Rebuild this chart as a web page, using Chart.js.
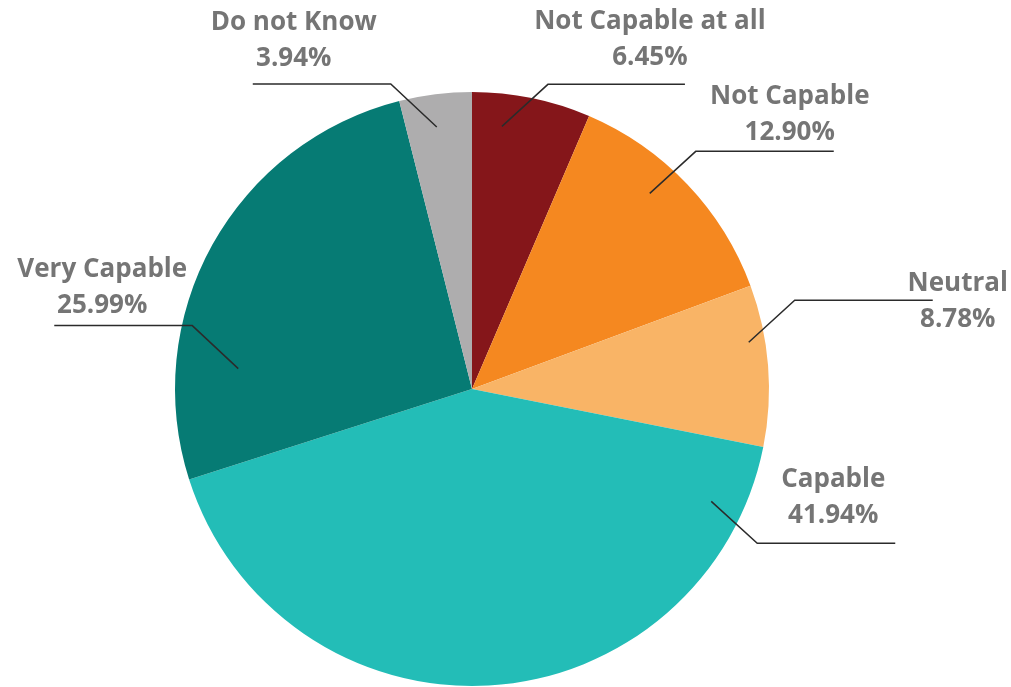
<script src="https://cdn.jsdelivr.net/npm/chart.js"></script>

<style>
  html, body { margin: 0; padding: 0; background: #fff; }
  #wrap { width: 1011px; height: 687px; }
</style>

<div id="wrap">
  <canvas id="myChart"></canvas>
</div>

<script>
  const categories = [
    'Not Capable at all',
    'Not Capable',
    'Neutral',
    'Capable',
    'Very Capable',
    'Do not Know',
  ];
  const shares = [6.45, 12.9, 8.78, 41.94, 25.99, 3.94];
  const colors = ['#85161A', '#F58820', '#F9B466', '#23BDB7', '#067B74', '#AEADAE'];

  // where each leader line touches its slice, and where its text sits
  // t: fraction along the slice angle, r: fraction of radius
  // ex/ey: elbow offset from the anchor, len: horizontal run, tx/ty: text centre from elbow
  const labelLayout = [
    { t: 0.28, r: 0.89, ex: 46, ey: -42, len: 137, tx: 102, ty: -63 },
    { t: 0.41, r: 0.89, ex: 46, ey: -42, len: 138, tx: 94, ty: -55 },
    { t: 0.34, r: 0.945, ex: 46, ey: -42, len: 138, tx: 163, ty: -17 },
    { t: 0.092, r: 0.89, ex: 46, ey: 42, len: 138, tx: 76, ty: -64 },
    { t: 0.243, r: 0.79, ex: -46, ey: -43, len: -138, tx: -90, ty: -56 },
    { t: 0.46, r: 0.89, ex: -46, ey: -43, len: -138, tx: -97, ty: -61 },
  ];

  const leaderLabels = {
    id: 'leaderLabels',
    afterDraw(chart) {
      const ctx = chart.ctx;
      const meta = chart.getDatasetMeta(0);
      ctx.save();
      meta.data.forEach(function (arc, i) {
        const p = arc.getProps(['x', 'y', 'startAngle', 'endAngle', 'outerRadius'], true);
        const L = labelLayout[i];
        const a = p.startAngle + L.t * (p.endAngle - p.startAngle);
        const ax = p.x + Math.cos(a) * p.outerRadius * L.r;
        const ay = p.y + Math.sin(a) * p.outerRadius * L.r;
        const bx = ax + L.ex;
        const by = ay + L.ey;

        ctx.strokeStyle = '#2b2b2b';
        ctx.lineWidth = 1.5;
        ctx.beginPath();
        ctx.moveTo(ax, ay);
        ctx.lineTo(bx, by);
        ctx.lineTo(bx + L.len, by);
        ctx.stroke();

        ctx.fillStyle = '#757575';
        ctx.font = 'bold 26px "Open Sans", "Noto Sans", sans-serif';
        ctx.textAlign = 'center';
        ctx.textBaseline = 'middle';
        ctx.fillText(categories[i], bx + L.tx, by + L.ty);
        ctx.fillText(shares[i].toFixed(2) + '%', bx + L.tx, by + L.ty + 36);
      });
      ctx.restore();
    },
  };

  const data = {
    labels: categories,
    datasets: [
      {
        data: shares,
        backgroundColor: colors,
        borderWidth: 0,
      },
    ],
  };

  const config = {
    type: 'pie',
    data: data,
    options: {
      responsive: true,
      maintainAspectRatio: false,
      animation: false,
      layout: {
        padding: { left: 0, right: 67, top: 92, bottom: 1 },
      },
      plugins: {
        legend: { display: false },
        tooltip: { enabled: false },
      },
    },
    plugins: [leaderLabels],
  };

  var myChart = new Chart(document.getElementById('myChart'), config);
</script>
